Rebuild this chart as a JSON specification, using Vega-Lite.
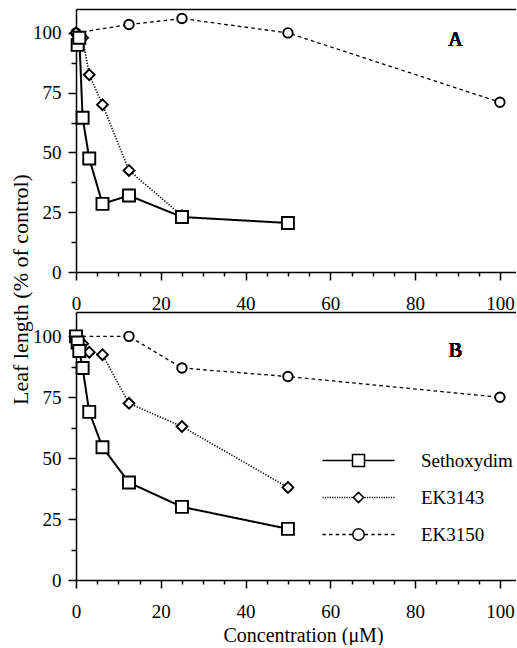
{
  "$schema": "https://vega.github.io/schema/vega-lite/v6.json",
  "padding": {"left": 9, "top": 9, "right": 0, "bottom": 0},
  "background": "white",
  "config": {
    "font": "Liberation Serif, Times New Roman, serif",
    "view": {"stroke": null},
    "axis": {
      "labelFont": "Liberation Serif, Times New Roman, serif", "labelFontSize": 19, "labelColor": "black",
      "tickColor": "black", "domainColor": "black", "tickWidth": 1.5, "domainWidth": 1.5,
      "grid": false, "titleFont": "Liberation Serif, Times New Roman, serif", "titleColor": "black", "titleFontWeight": "normal",
      "labelFlush": false
    }
  },
  "data": {"values": [
    {"p": "A", "s": "EK3150", "conc": 0, "len": 100},
    {"p": "A", "s": "EK3150", "conc": 12.5, "len": 103.5},
    {"p": "A", "s": "EK3150", "conc": 25, "len": 106},
    {"p": "A", "s": "EK3150", "conc": 50, "len": 100},
    {"p": "A", "s": "EK3150", "conc": 100, "len": 71},
    {"p": "A", "s": "EK3143", "conc": 0, "len": 100},
    {"p": "A", "s": "EK3143", "conc": 1.56, "len": 98},
    {"p": "A", "s": "EK3143", "conc": 3.125, "len": 82.5},
    {"p": "A", "s": "EK3143", "conc": 6.25, "len": 70},
    {"p": "A", "s": "EK3143", "conc": 12.5, "len": 42.5},
    {"p": "A", "s": "EK3143", "conc": 25, "len": 23.5},
    {"p": "A", "s": "Sethoxydim", "conc": 0.39, "len": 95},
    {"p": "A", "s": "Sethoxydim", "conc": 0.78, "len": 98},
    {"p": "A", "s": "Sethoxydim", "conc": 1.56, "len": 64.5},
    {"p": "A", "s": "Sethoxydim", "conc": 3.125, "len": 47.5},
    {"p": "A", "s": "Sethoxydim", "conc": 6.25, "len": 28.5},
    {"p": "A", "s": "Sethoxydim", "conc": 12.5, "len": 32},
    {"p": "A", "s": "Sethoxydim", "conc": 25, "len": 23},
    {"p": "A", "s": "Sethoxydim", "conc": 50, "len": 20.5},
    {"p": "B", "s": "EK3150", "conc": 0, "len": 100},
    {"p": "B", "s": "EK3150", "conc": 12.5, "len": 100},
    {"p": "B", "s": "EK3150", "conc": 25, "len": 87},
    {"p": "B", "s": "EK3150", "conc": 50, "len": 83.5},
    {"p": "B", "s": "EK3150", "conc": 100, "len": 75},
    {"p": "B", "s": "EK3143", "conc": 0, "len": 100},
    {"p": "B", "s": "EK3143", "conc": 1.56, "len": 97},
    {"p": "B", "s": "EK3143", "conc": 3.125, "len": 93.5},
    {"p": "B", "s": "EK3143", "conc": 6.25, "len": 92.5},
    {"p": "B", "s": "EK3143", "conc": 12.5, "len": 72.5},
    {"p": "B", "s": "EK3143", "conc": 25, "len": 63},
    {"p": "B", "s": "EK3143", "conc": 50, "len": 38},
    {"p": "B", "s": "Sethoxydim", "conc": 0, "len": 100},
    {"p": "B", "s": "Sethoxydim", "conc": 0.39, "len": 97.5},
    {"p": "B", "s": "Sethoxydim", "conc": 0.78, "len": 94},
    {"p": "B", "s": "Sethoxydim", "conc": 1.56, "len": 87},
    {"p": "B", "s": "Sethoxydim", "conc": 3.125, "len": 69},
    {"p": "B", "s": "Sethoxydim", "conc": 6.25, "len": 54.5},
    {"p": "B", "s": "Sethoxydim", "conc": 12.5, "len": 40},
    {"p": "B", "s": "Sethoxydim", "conc": 25, "len": 30},
    {"p": "B", "s": "Sethoxydim", "conc": 50, "len": 21}
  ]},
  "bounds": "flush",
  "spacing": 40,
  "vconcat": [
    {
      "width": 440, "height": 263,
      "transform": [{"filter": "datum.p === 'A'"}],
      "resolve": {"axis": {"x": "independent", "y": "independent"}},
      "layer": [
        {
          "mark": {"type": "line", "color": "black"},
          "encoding": {
            "x": {"field": "conc", "type": "quantitative", "scale": {"domain": [0, 103.8], "nice": false, "zero": false},
                  "axis": {"orient": "bottom", "values": [0, 20, 40, 60, 80, 100], "tickSize": 8, "labelPadding": 14, "title": null}},
            "y": {"field": "len", "type": "quantitative", "scale": {"domain": [0, 110], "nice": false},
                  "axis": {"orient": "left", "values": [0, 25, 50, 75, 100], "tickSize": 8, "labelPadding": 7,
                           "title": "Leaf length (% of control)", "titleFontSize": 22, "titleAngle": -90,
                           "titleX": -56, "titleY": 280, "titleAlign": "center", "titleBaseline": "middle"}},
            "strokeDash": {"field": "s", "type": "nominal", "scale": {"domain": ["Sethoxydim", "EK3143", "EK3150"], "range": [[1, 0], [1.2, 1.6], [3.6, 3.2]]}, "legend": null},
            "strokeWidth": {"field": "s", "type": "nominal", "scale": {"domain": ["Sethoxydim", "EK3143", "EK3150"], "range": [2, 1.3, 2.2]}, "legend": null}
          }
        },
        {
          "mark": {"type": "point", "filled": true, "fill": "white", "stroke": "black", "strokeWidth": 1.9, "opacity": 1},
          "encoding": {
            "x": {"field": "conc", "type": "quantitative",
                  "axis": {"orient": "bottom", "values": [5, 10, 15, 25, 30, 35, 45, 50, 55, 65, 70, 75, 85, 90, 95], "tickSize": 4, "labels": false, "domain": false, "title": null}},
            "y": {"field": "len", "type": "quantitative",
                  "axis": {"orient": "left", "values": [12.5, 37.5, 62.5, 87.5], "tickSize": 5, "labels": false, "domain": false, "title": null}},
            "shape": {"field": "s", "type": "nominal", "scale": {"domain": ["Sethoxydim", "EK3143", "EK3150"], "range": ["square", "diamond", "circle"]}, "legend": null},
            "size": {"field": "s", "type": "nominal", "scale": {"domain": ["Sethoxydim", "EK3143", "EK3150"], "range": [144, 90, 180]}, "legend": null}
          }
        },
        {
          "mark": {"type": "text", "fontSize": 20, "fontWeight": "normal", "font": "Liberation Serif, Times New Roman, serif", "color": "black"},
          "encoding": {
            "x": {"datum": 89.5, "type": "quantitative", "axis": {"orient": "top", "labels": false, "ticks": false, "domain": true, "title": null}},
            "y": {"datum": 97, "type": "quantitative", "axis": null},
            "text": {"value": "A"}
          }
        }
      ]
    },
    {
      "width": 440, "height": 268,
      "transform": [{"filter": "datum.p === 'B'"}],
      "resolve": {"axis": {"x": "independent", "y": "independent"}, "scale": {"shape": "independent"}},
      "layer": [
        {
          "mark": {"type": "line", "color": "black"},
          "encoding": {
            "x": {"field": "conc", "type": "quantitative", "scale": {"domain": [0, 103.8], "nice": false, "zero": false},
                  "axis": {"orient": "bottom", "values": [0, 20, 40, 60, 80, 100], "tickSize": 8, "labelPadding": 14,
                           "title": "Concentration (μM)", "titleFontSize": 20, "titlePadding": 4, "titleX": 227}},
            "y": {"field": "len", "type": "quantitative", "scale": {"domain": [0, 110], "nice": false},
                  "axis": {"orient": "left", "values": [0, 25, 50, 75, 100], "tickSize": 8, "labelPadding": 7, "title": null}},
            "strokeDash": {"field": "s", "type": "nominal", "scale": {"domain": ["Sethoxydim", "EK3143", "EK3150"], "range": [[1, 0], [1.2, 1.6], [3.6, 3.2]]}, "legend": null},
            "strokeWidth": {"field": "s", "type": "nominal", "scale": {"domain": ["Sethoxydim", "EK3143", "EK3150"], "range": [2, 1.3, 2.2]}, "legend": null}
          }
        },
        {
          "mark": {"type": "point", "filled": true, "fill": "white", "stroke": "black", "strokeWidth": 1.9, "opacity": 1},
          "encoding": {
            "x": {"field": "conc", "type": "quantitative",
                  "axis": {"orient": "bottom", "values": [5, 10, 15, 25, 30, 35, 45, 50, 55, 65, 70, 75, 85, 90, 95], "tickSize": 4, "labels": false, "domain": false, "title": null}},
            "y": {"field": "len", "type": "quantitative",
                  "axis": {"orient": "left", "values": [12.5, 37.5, 62.5, 87.5], "tickSize": 5, "labels": false, "domain": false, "title": null}},
            "shape": {"field": "s", "type": "nominal", "scale": {"domain": ["Sethoxydim", "EK3143", "EK3150"], "range": ["square", "diamond", "circle"]}, "legend": null},
            "size": {"field": "s", "type": "nominal", "scale": {"domain": ["Sethoxydim", "EK3143", "EK3150"], "range": [144, 90, 180]}, "legend": null}
          }
        },
        {
          "mark": {"type": "text", "fontSize": 20, "fontWeight": "normal", "font": "Liberation Serif, Times New Roman, serif", "color": "black"},
          "encoding": {
            "x": {"datum": 89.5, "type": "quantitative", "axis": {"orient": "top", "labels": false, "ticks": false, "domain": true, "title": null}},
            "y": {"datum": 94, "type": "quantitative", "axis": null},
            "text": {"value": "B"}
          }
        },
        {
          "transform": [{"filter": "false"}],
          "mark": {"type": "point", "color": "black", "filled": false},
          "encoding": {
            "shape": {"field": "s", "type": "nominal",
              "scale": {"domain": ["Sethoxydim", "EK3143", "EK3150"],
                        "range": [
                          "M-6,0H-1M1,0H6M-1,-1H1V1H-1Z",
                          "M-6,0h0.2M-5.6,0h0.2M-5.2,0h0.2M-4.8,0h0.2M-4.4,0h0.2M-4,0h0.2M-3.6,0h0.2M-3.2,0h0.2M-2.8,0h0.2M-2.4,0h0.2M-2,0h0.2M-1.6,0h0.2M-1.2,0h0.2M1,0h0.2M1.4,0h0.2M1.8,0h0.2M2.2,0h0.2M2.6,0h0.2M3,0h0.2M3.4,0h0.2M3.8,0h0.2M4.2,0h0.2M4.6,0h0.2M5,0h0.2M5.4,0h0.2M5.8,0h0.2M0,-0.85L0.85,0L0,0.85L-0.85,0Z",
                          "M-6,0H-5.45M-4.9,0H-4.35M-3.8,0H-3.25M-2.7,0H-2.15M-1.6,0H-1.05M1.05,0H1.6M2.15,0H2.7M3.25,0H3.8M4.35,0H4.9M5.45,0H6M0.95,0A0.95,0.95 0 1,1 -0.95,0A0.95,0.95 0 1,1 0.95,0Z"
                        ]},
              "legend": {
                "orient": "none", "legendX": 273, "legendY": 139, "title": null, "padding": 0,
                "symbolSize": 144, "symbolOpacity": 1, "symbolStrokeColor": "black", "symbolFillColor": "white",
                "labelFont": "Liberation Serif, Times New Roman, serif", "labelFontSize": 19, "labelColor": "black", "labelOffset": 53,
                "rowPadding": 17,
                "encode": {"symbols": {"update": {
                  "strokeWidth": {"signal": "datum.value === 'Sethoxydim' ? 2 : (datum.value === 'EK3143' ? 1.7 : 1.9)"},
                  "fill": {"value": "white"}, "stroke": {"value": "black"}, "opacity": {"value": 1}
                }}}
              }}
          }
        }
      ]
    }
  ]
}
